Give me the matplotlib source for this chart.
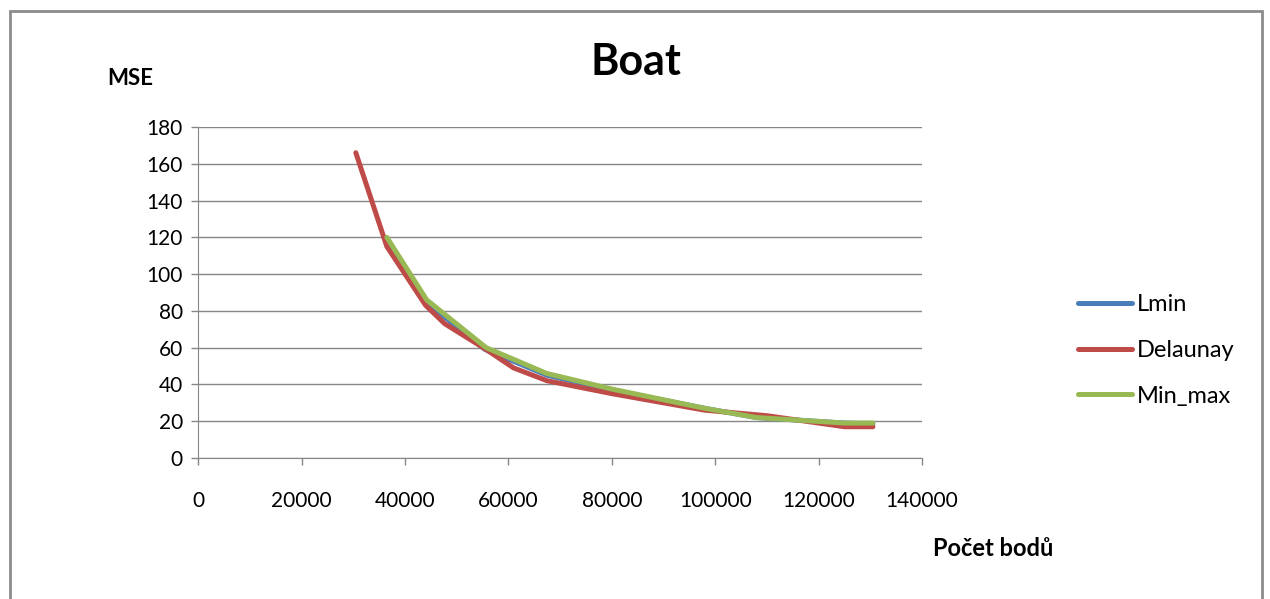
import matplotlib.pyplot as plt
from matplotlib.patches import Rectangle

plt.rcParams['font.family'] = ['Lato', 'DejaVu Sans']

# pocet bodu a MSE pro jednotlive metody
lmin_x = [36500, 44000, 55500, 67500, 80000, 98000, 108000, 125000, 130500]
lmin_y = [119, 85, 59, 45, 37, 27, 22, 19, 18.5]

delaunay_x = [30500, 36500, 44000, 47700, 55700, 61000, 67500, 80000, 98000, 110000, 125000, 130500]
delaunay_y = [166, 115, 83, 73, 59, 49, 42, 35, 26, 23, 17, 17]

minmax_x = [36500, 44200, 55700, 67400, 80000, 98000, 108000, 125000, 130500]
minmax_y = [120, 86, 60, 46, 37.5, 27, 22, 19, 19]

x_ticks = list(range(0, 140001, 20000))
y_ticks = list(range(0, 181, 20))

fig = plt.figure(figsize=(12.7, 5.99), dpi=100)
ax = fig.add_axes([0.156, 0.2354, 0.57, 0.5526])

ax.plot(lmin_x, lmin_y, color='#4A7EBB', lw=3.6, label='Lmin', solid_capstyle='round')
ax.plot(delaunay_x, delaunay_y, color='#BE4B48', lw=3.6, label='Delaunay', solid_capstyle='round')
ax.plot(minmax_x, minmax_y, color='#98B954', lw=3.6, label='Min_max', solid_capstyle='round')

ax.set_xlim(0, 140000)
ax.set_ylim(0, 180)
ax.set_xticks(x_ticks)
ax.set_yticks(y_ticks)
ax.tick_params(axis='both', labelsize=15, colors='#868686', labelcolor='black', length=5, width=1)
ax.tick_params(axis='x', pad=19)
ax.tick_params(axis='y', pad=6)
ax.grid(axis='y', color='#868686', lw=1)
ax.set_axisbelow(True)
for s in ['top', 'right']:
    ax.spines[s].set_visible(False)
for s in ['left', 'bottom']:
    ax.spines[s].set_color('#868686')

fig.text(0.5008, 0.896, 'Boat', fontsize=31, fontweight='bold', ha='center', va='center')
fig.text(0.1024, 0.869, 'MSE', fontsize=16, fontweight='bold', ha='center', va='center')
fig.text(0.782, 0.085, 'Počet bodů', fontsize=17, fontweight='bold', ha='center', va='center')

leg = ax.legend(loc='center left', bbox_to_anchor=(1.186, 0.325), frameon=False, fontsize=17,
                handlelength=2.3, handletextpad=0.2, labelspacing=1.05)

# ram kolem grafu
fig.patches.append(Rectangle((10 / 1270, -0.1), 1252 / 1270, 1.1 - 11 / 599,
                             transform=fig.transFigure, fill=False,
                             edgecolor='#8c8c8c', lw=2))

fig.savefig('out.png', dpi=100)
